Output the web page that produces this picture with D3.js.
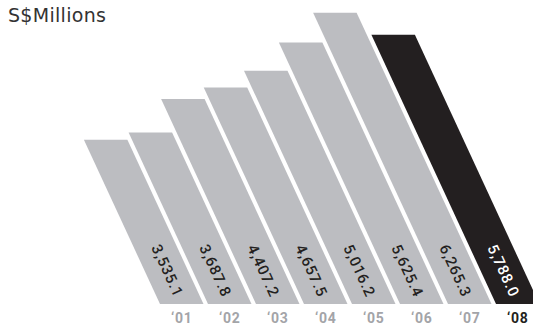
<!DOCTYPE html>
<html>
<head>
<meta charset="utf-8">
<script src="https://cdn.jsdelivr.net/npm/d3@7/dist/d3.min.js"></script>
<style>
  html, body { margin: 0; padding: 0; background: #fff; }
  svg { display: block; }
</style>
</head>
<body>
<svg id="chart" width="533" height="325"></svg>
<script>
// Revenue by year, S$ millions
const years = ["\u201801", "\u201802", "\u201803", "\u201804", "\u201805", "\u201806", "\u201807", "\u201808"];
const revenue = [3535.1, 3687.8, 4407.2, 4657.5, 5016.2, 5625.4, 6265.3, 5788.0];
const unitLabel = "S$Millions";

const baseY = 304;
const slant = 0.463; // horizontal shift per pixel of bar height

const svg = d3.select("#chart");

const x = d3.scaleBand()
  .domain(years)
  .range([160, 539.5])
  .paddingInner(0.094)
  .paddingOuter(0);

const y = d3.scaleLinear()
  .domain([0, 6538])
  .range([baseY, 0]);

const fmt = d3.format(",.1f");
const data = years.map((yr, i) => ({ yr, v: revenue[i], last: i === years.length - 1 }));

// slanted bars: the base sits on the year band, the top is shifted left by the slant
const bar = d3.line();
svg.append("g").selectAll("path")
  .data(data)
  .join("path")
  .attr("d", d => {
    const b0 = x(d.yr), b1 = b0 + x.bandwidth();
    const top = y(d.v), h = baseY - top, s = h * slant;
    return bar([[b0 - s, top], [b1 - s, top], [b1, baseY], [b0, baseY]]) + "Z";
  })
  .attr("fill", d => d.last ? "#231f20" : "#bcbdc1");

// value labels running down each bar
const angle = Math.atan2(1, slant) * 180 / Math.PI;
svg.append("g").selectAll("text")
  .data(data)
  .join("text")
  .attr("transform", d => {
    const off = 8;
    const cx = x(d.yr) + x.bandwidth() / 2 - slant * off + 1;
    const cy = baseY - off;
    return `translate(${cx},${cy}) rotate(${angle})`;
  })
  .attr("text-anchor", "end")
  .attr("dominant-baseline", "central")
  .attr("font-family", "Roboto, 'Liberation Sans', sans-serif")
  .attr("font-size", 15)
  .attr("font-weight", 500)
  .attr("letter-spacing", 0.8)
  .attr("fill", d => d.last ? "#ffffff" : "#231f20")
  .text(d => fmt(d.v));

// year axis under the bar bases
const axis = d3.axisBottom(x).tickSize(0).tickPadding(0);
const ax = svg.append("g").attr("transform", `translate(0,${baseY + 9})`).call(axis);
ax.select(".domain").remove();
ax.selectAll("text")
  .attr("dy", "0.71em")
  .attr("font-family", "Roboto, 'Liberation Sans', sans-serif")
  .attr("font-size", 14)
  .attr("font-weight", "bold")
  .attr("letter-spacing", 0.8)
  .attr("fill", (d, i) => i === years.length - 1 ? "#231f20" : "#a3a4a8");

svg.append("text")
  .attr("x", 8)
  .attr("y", 22)
  .attr("font-family", "'DejaVu Sans', sans-serif")
  .attr("font-size", 19)
  .attr("letter-spacing", 0.3)
  .attr("fill", "#333")
  .text(unitLabel);
</script>
</body>
</html>
